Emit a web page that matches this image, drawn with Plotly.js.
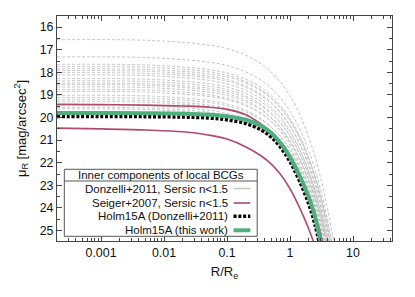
<!DOCTYPE html>
<html><head><meta charset="utf-8">
<script src="https://cdn.plot.ly/plotly-3.0.1.min.js"></script>
<style>html,body{margin:0;padding:0;background:#fff}#chart{width:415px;height:297px}</style>
</head><body><div id="chart"></div>
<script>
// Radius grid (R/Re) for the Donzelli+2011 inner components
const grayRadius = [0.0002, 0.01, 0.1, 0.3, 0.6, 1, 1.5, 2, 2.5, 3, 3.5, 4, 4.5, 5, 5.5];
// Surface brightness profiles (mag/arcsec^2)
const donzelliProfiles = [
  [16.56, 16.62, 16.95, 17.51, 18.21, 19.05, 20.00, 20.90, 21.74, 22.56, 23.35, 24.11, 24.85, 25.58],
  [17.32, 17.38, 17.70, 18.24, 18.91, 19.72, 20.64, 21.50, 22.31, 23.10, 23.86, 24.59, 25.32, 26.02],
  [17.65, 17.71, 18.03, 18.56, 19.24, 20.04, 20.96, 21.81, 22.62, 23.41, 24.16, 24.89, 25.61],
  [17.75, 17.81, 18.13, 18.67, 19.34, 20.15, 21.07, 21.93, 22.74, 23.53, 24.29, 25.02, 25.75],
  [17.85, 17.91, 18.21, 18.72, 19.36, 20.13, 21.00, 21.82, 22.60, 23.34, 24.06, 24.76, 25.45, 26.11],
  [17.93, 17.99, 18.32, 18.86, 19.55, 20.37, 21.31, 22.18, 23.01, 23.81, 24.58, 25.33, 26.06],
  [18.02, 18.08, 18.39, 18.92, 19.59, 20.38, 21.28, 22.13, 22.93, 23.70, 24.45, 25.17, 25.88],
  [18.12, 18.18, 18.51, 19.06, 19.76, 20.59, 21.54, 22.42, 23.26, 24.07, 24.85, 25.61],
  [18.28, 18.34, 18.65, 19.19, 19.85, 20.65, 21.56, 22.41, 23.21, 23.99, 24.74, 25.46, 26.17],
  [18.38, 18.44, 18.76, 19.31, 19.99, 20.81, 21.74, 22.61, 23.44, 24.23, 25.00, 25.75],
  [18.48, 18.54, 18.85, 19.38, 20.04, 20.83, 21.73, 22.57, 23.37, 24.14, 24.88, 25.60],
  [18.55, 18.61, 18.94, 19.50, 20.20, 21.03, 21.98, 22.87, 23.71, 24.52, 25.31, 26.07],
  [18.65, 18.71, 19.03, 19.56, 20.24, 21.04, 21.96, 22.81, 23.62, 24.41, 25.16, 25.89],
  [18.76, 18.82, 19.15, 19.70, 20.39, 21.22, 22.16, 23.04, 23.88, 24.68, 25.46, 26.22],
  [18.85, 18.91, 19.21, 19.72, 20.36, 21.12, 21.99, 22.80, 23.57, 24.32, 25.04, 25.73],
  [19.02, 19.08, 19.40, 19.94, 20.63, 21.44, 22.37, 23.23, 24.06, 24.85, 25.62],
  [19.12, 19.18, 19.48, 19.99, 20.63, 21.39, 22.26, 23.07, 23.84, 24.59, 25.31, 26.00],
  [19.22, 19.28, 19.60, 20.14, 20.81, 21.62, 22.54, 23.40, 24.21, 25.00, 25.76],
  [19.30, 19.36, 19.66, 20.16, 20.80, 21.56, 22.43, 23.24, 24.00, 24.74, 25.46, 26.15],
  [19.45, 19.51, 19.82, 20.36, 21.02, 21.82, 22.73, 23.58, 24.38, 25.16, 25.91],
  [19.55, 19.61, 19.90, 20.40, 21.02, 21.77, 22.62, 23.42, 24.17, 24.90, 25.60],
  [19.62, 19.68, 19.98, 20.48, 21.11, 21.87, 22.73, 23.54, 24.30, 25.04, 25.75]
];
// Radius grid for the highlighted profiles
const mainRadius = [0.0002, 0.001, 0.005, 0.02, 0.05, 0.1, 0.2, 0.35, 0.5, 0.7, 1.0, 1.4, 2.0, 2.5, 3.0, 3.5];
const seigerBright = [19.42, 19.43, 19.45, 19.49, 19.54, 19.64, 19.88, 20.30, 20.65, 21.10, 21.70, 22.45, 23.45, 24.30, 25.05, 25.90];
const seigerFaint  = [20.47, 20.50, 20.55, 20.63, 20.77, 20.95, 21.30, 21.70, 22.05, 22.50, 23.15, 23.95, 24.95, 25.70];
const holmDonzelli = [19.95, 19.95, 19.96, 19.98, 20.02, 20.10, 20.27, 20.55, 20.86, 21.30, 21.95, 22.78, 23.85, 24.75, 25.70];
const holmThisWork = [19.80, 19.80, 19.81, 19.83, 19.87, 19.94, 20.10, 20.37, 20.67, 21.12, 21.75, 22.55, 23.55, 24.40, 25.40, 26.30];

const xTickVals = [0.001, 0.01, 0.1, 1, 10];
const xTickText = ['0.001', '0.01', '0.1', '1', '10'];
const yTickVals = [16, 17, 18, 19, 20, 21, 22, 23, 24, 25];
const legendTitle = 'Inner components of local BCGs';
const legendLabels = ['Donzelli+2011, Sersic n<1.5', 'Seiger+2007, Sersic n<1.5', 'Holm15A (Donzelli+2011)', 'Holm15A (this work)'];

const GRAY = '#c4c4c4', RED = '#b04a6c', BLACK = '#000000', GREEN = '#4fae7e';
const traces = [];
donzelliProfiles.forEach(p => traces.push({
  x: grayRadius.slice(0, p.length), y: p, type: 'scatter', mode: 'lines',
  line: {color: GRAY, width: 1, dash: '3px,2px', shape: 'spline'}, showlegend: false, hoverinfo: 'skip'
}));
traces.push({x: mainRadius.slice(0, seigerBright.length), y: seigerBright, mode: 'lines', line: {color: RED, width: 1.6, shape: 'spline'}, showlegend: false});
traces.push({x: mainRadius.slice(0, seigerFaint.length), y: seigerFaint, mode: 'lines', line: {color: RED, width: 1.6, shape: 'spline'}, showlegend: false});
traces.push({x: mainRadius.slice(0, holmDonzelli.length), y: holmDonzelli, mode: 'lines', line: {color: BLACK, width: 3.5, dash: '3px,1.8px', shape: 'spline'}, showlegend: false});
traces.push({x: mainRadius.slice(0, holmThisWork.length), y: holmThisWork, mode: 'lines', line: {color: GREEN, width: 4, shape: 'spline'}, showlegend: false});

// minor tick positions (2..9 per decade)
const minorX = [];
for (let e = -4; e <= 1; e++) for (let d = 2; d <= 9; d++) minorX.push(d * Math.pow(10, e));

// custom legend (text left, sample right)
const L = {x0: 0.0218, x1: 0.5976, y0: 0.0209, y1: 0.3187, sep: 0.2667};
const rowsY = [0.2333, 0.1689, 0.1098, 0.0476];
const sampleStyles = [
  {color: GRAY, width: 1.5}, {color: RED, width: 1.6},
  {color: BLACK, width: 3.5, dash: '3px,1.8px'}, {color: GREEN, width: 4}
];
const shapes = [
  {type: 'rect', xref: 'paper', yref: 'paper', x0: L.x0, x1: L.x1, y0: L.y0, y1: L.y1, line: {color: '#555', width: 1}, fillcolor: 'rgba(255,255,255,1)', layer: 'above'},
  {type: 'line', xref: 'paper', yref: 'paper', x0: L.x0, x1: L.x1, y0: L.sep, y1: L.sep, line: {color: '#555', width: 1}, layer: 'above'}
];
rowsY.forEach((yy, i) => shapes.push({type: 'line', xref: 'paper', yref: 'paper', x0: 0.527, x1: 0.577, y0: yy, y1: yy, line: sampleStyles[i], layer: 'above'}));
const annotations = [
  {xref: 'paper', yref: 'paper', x: (L.x0 + L.x1) / 2, y: 0.292, text: legendTitle, showarrow: false, xanchor: 'center', yanchor: 'middle', font: {size: 11.5, color: '#111'}}
];
legendLabels.forEach((t, i) => annotations.push({xref: 'paper', yref: 'paper', x: 0.517, y: rowsY[i], text: t.replace('<', '&lt;'), showarrow: false, xanchor: 'right', yanchor: 'middle', font: {size: 11.5, color: '#111'}}));

const axisCommon = {showline: true, linecolor: '#444', linewidth: 1, mirror: 'ticks', ticks: 'inside', tickcolor: '#444', showgrid: false, zeroline: false, tickfont: {size: 12.4, color: '#111'}};
const layout = {
  width: 415, height: 297,
  margin: {l: 57, r: 23.3, t: 15.7, b: 56.3},
  paper_bgcolor: '#fff', plot_bgcolor: '#fff',
  font: {family: 'Liberation Sans, Arial, sans-serif', color: '#111'},
  showlegend: false,
  xaxis: Object.assign({}, axisCommon, {
    type: 'log', range: [Math.log10(0.0002), Math.log10(41.6)],
    tickmode: 'array', tickvals: xTickVals, ticktext: xTickText, ticklen: 5,
    minor: {tickmode: 'array', tickvals: minorX, ticks: 'inside', ticklen: 3, tickcolor: '#444'},
    title: {text: 'R/R<sub>e</sub>', font: {size: 13}, standoff: 8}
  }),
  yaxis: Object.assign({}, axisCommon, {
    range: [25.46, 15.51], tickmode: 'array', tickvals: yTickVals, ticklen: 5,
    minor: {dtick: 0.5, ticks: 'inside', ticklen: 3, tickcolor: '#444'},
    title: {text: 'μ<sub>R</sub> [mag/arcsec<sup>2</sup>]', font: {size: 13}, standoff: 10}
  }),
  shapes: shapes, annotations: annotations
};
Plotly.newPlot('chart', traces, layout, {staticPlot: true, displayModeBar: false});
</script></body></html>
